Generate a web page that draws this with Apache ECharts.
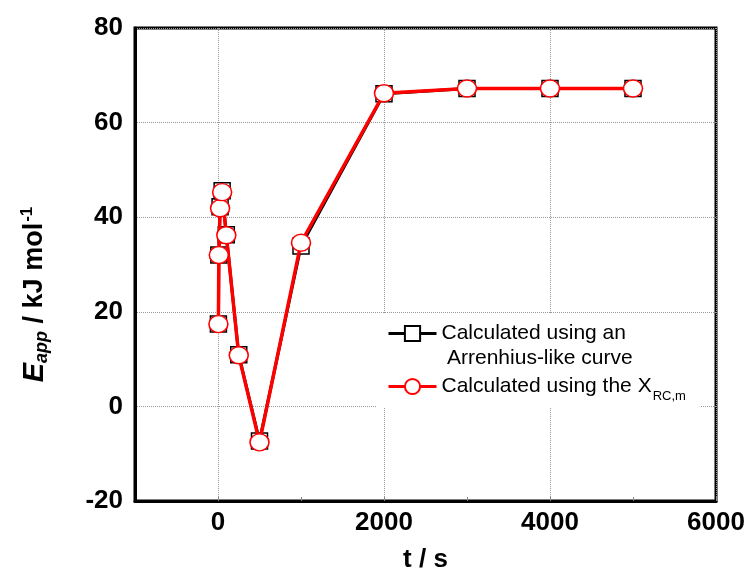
<!DOCTYPE html>
<html>
<head>
<meta charset="utf-8">
<script src="https://cdn.jsdelivr.net/npm/echarts@6/dist/echarts.min.js"></script>
<style>
  html, body { margin: 0; padding: 0; background: #fff; }
  #chart { width: 752px; height: 583px; }
</style>
</head>
<body>
<div id="chart"></div>
<script>
// 时间 (s)
var times = [5, 10, 25, 50, 100, 250, 500, 1000, 2000, 3000, 4000, 5000];
// Arrenhius-like curve
var eArrhenius = [17.4, 32.0, 42.2, 45.6, 36.3, 10.9, -7.3, 33.9, 66.1, 67.2, 67.2, 67.2];
// X_RC,m
var eXrc = [17.4, 32.0, 41.9, 45.3, 36.2, 10.8, -7.6, 34.6, 66.2, 67.2, 67.2, 67.2];
var xLabels = [0, 2000, 4000, 6000];
var xMinorTicks = [1000, 3000, 5000];

var font = "'Liberation Sans', Arial, sans-serif";

function pairs(xs, ys) {
	var out = [];
	for (var i = 0; i < xs.length; i++) {
		out.push([xs[i], ys[i]]);
	}
	return out;
}

var chart = echarts.init(document.getElementById('chart'));
chart.setOption({
	animation: false,
	backgroundColor: '#fff',
	textStyle: { fontFamily: font },
	title: {
		text: 'Arrenhius-like curve',
		left: 447,
		top: 348,
		padding: 0,
		z: 10,
		textStyle: { fontFamily: font, fontSize: 21, fontWeight: 'normal', color: '#000' }
	},
	grid: {
		left: 135, right: 36, top: 28, bottom: 82,
		show: true,
		borderColor: '#000',
		borderWidth: 3,
		containLabel: false
	},
	legend: {
		orient: 'vertical',
		left: 377,
		top: 313,
		padding: [10, 14, 5, 10],
		itemGap: 32,
		itemWidth: 48,
		itemHeight: 19,
		backgroundColor: '#fff',
		z: 5,
		data: ['arr', 'xrc'],
		lineStyle: { width: 3 },
		formatter: function (name) {
			if (name === 'arr') return 'Calculated using an';
			return 'Calculated using the X{sub|RC,m}';
		},
		textStyle: {
			fontFamily: font,
			fontSize: 21,
			color: '#000',
			rich: {
				sub: { fontFamily: font, fontSize: 13, padding: [20, 0, 0, 1] }
			}
		}
	},
	xAxis: [
		{
			type: 'value',
			min: -1000,
			max: 6000,
			name: 't / s',
			nameLocation: 'middle',
			nameGap: 46,
			nameTextStyle: { fontFamily: font, fontSize: 26, fontWeight: 'bold', color: '#000' },
			axisLine: { show: true, onZero: false, lineStyle: { color: '#000', width: 3 } },
			axisTick: { show: true, inside: true, length: 4, customValues: xLabels, lineStyle: { color: '#888', width: 1 } },
			axisLabel: {
				customValues: xLabels, margin: 9, fontFamily: font, fontSize: 26, fontWeight: 'bold', color: '#000',
				formatter: function (v) { return String(v); }
			},
			splitLine: { show: true, lineStyle: { color: '#999', type: 'dotted', width: 1 } }
		},
		{
			type: 'value',
			min: -1000,
			max: 6000,
			position: 'bottom',
			axisLine: { show: false, onZero: false },
			axisTick: { show: true, inside: true, length: 4, customValues: xMinorTicks, lineStyle: { color: '#888', width: 1 } },
			axisLabel: { show: false },
			splitLine: { show: false }
		}
	],
	yAxis: {
		type: 'value',
		min: -20,
		max: 80,
		interval: 20,
		name: '{e|E}{sub|app}{n| / kJ mol}{sup|-1}',
		nameLocation: 'middle',
		nameGap: 84,
		nameRotate: 90,
		nameTextStyle: {
			padding: [0, 60, 0, 0],
			rich: {
				e: { fontFamily: font, fontSize: 29, fontWeight: 'bold', fontStyle: 'italic', color: '#000' },
				sub: { fontFamily: font, fontSize: 18, fontWeight: 'bold', fontStyle: 'italic', color: '#000', padding: [15, 0, 0, 0] },
				n: { fontFamily: font, fontSize: 27, fontWeight: 'bold', color: '#000' },
				sup: { fontFamily: font, fontSize: 17, fontWeight: 'bold', color: '#000', padding: [0, 0, 14, 1] }
			}
		},
		axisLine: { show: true, onZero: false, lineStyle: { color: '#000', width: 3 } },
		axisTick: { show: false },
		axisLabel: { margin: 12, fontFamily: font, fontSize: 26, fontWeight: 'bold', color: '#000' },
		splitLine: { show: true, lineStyle: { color: '#999', type: 'dotted', width: 1 } }
	},
	series: [
		{
			name: 'arr',
			type: 'line',
			data: pairs(times, eArrhenius),
			symbol: 'rect',
			symbolSize: 16,
			showAllSymbol: true,
			z: 2,
			lineStyle: { color: '#000', width: 3 },
			itemStyle: { color: '#fff', borderColor: '#000', borderWidth: 1.5 }
		},
		{
			name: 'xrc',
			type: 'line',
			data: pairs(times, eXrc),
			symbol: 'circle',
			symbolSize: [19, 17],
			showAllSymbol: true,
			z: 3,
			lineStyle: { color: '#ff0000', width: 3.5 },
			itemStyle: { color: '#fff', borderColor: '#ff0000', borderWidth: 1.5 }
		}
	]
});
</script>
</body>
</html>
